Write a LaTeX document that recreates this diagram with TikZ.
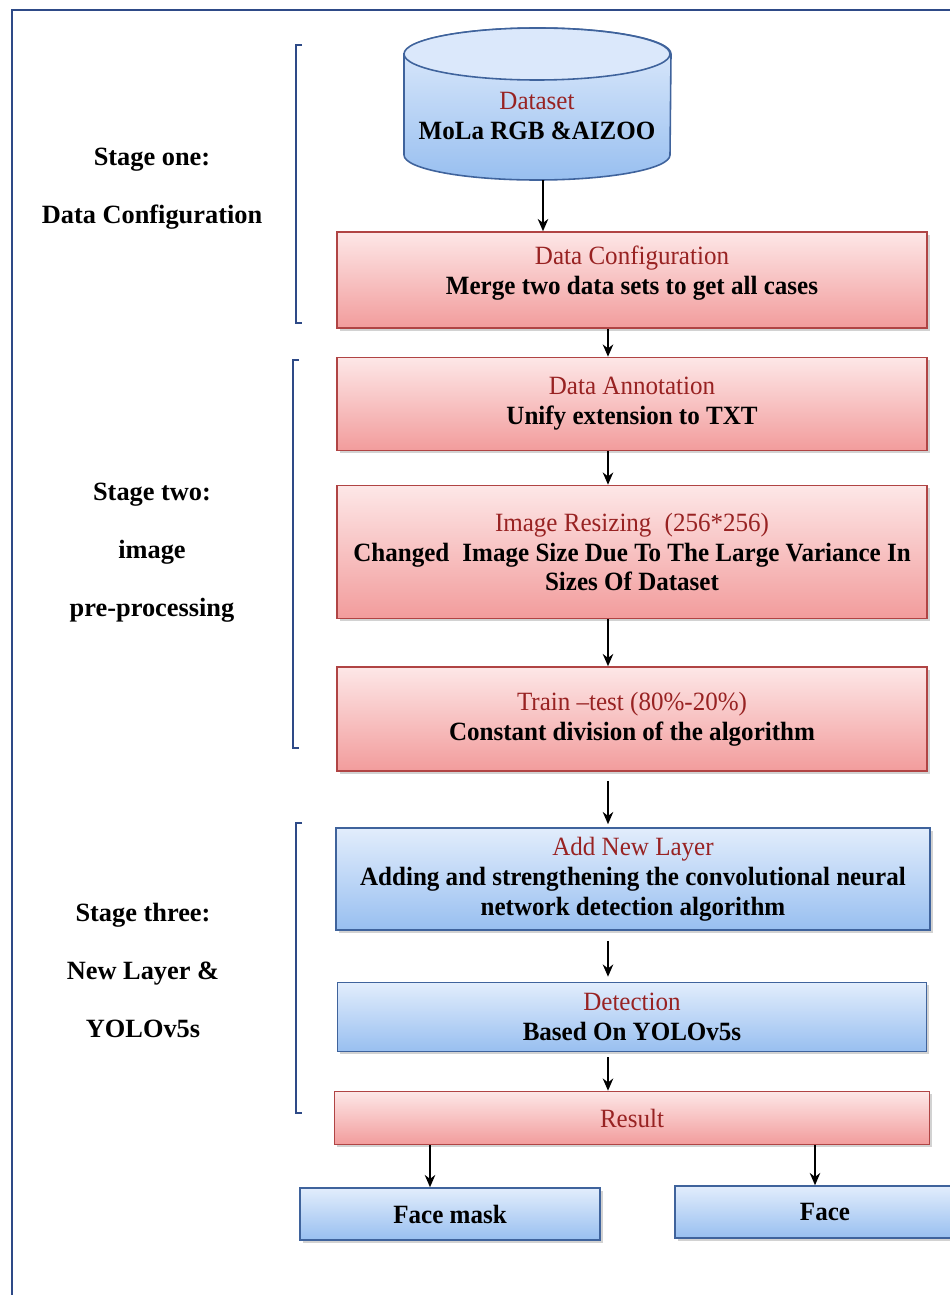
\documentclass[tikz,border=0pt]{standalone}
\usepackage{fontspec}
\setmainfont{Liberation Serif}
\newfontfamily\boxfont[FakeStretch=0.95, Ligatures=TeX]{Liberation Serif}
\usetikzlibrary{arrows.meta,shadows,positioning}

\definecolor{bluetop}{HTML}{E2EDFC}
\definecolor{bluebot}{HTML}{98BFF0}
\definecolor{blueline}{HTML}{3F639C}
\definecolor{redtop}{HTML}{FDE7E7}
\definecolor{redbot}{HTML}{F29C9C}
\definecolor{redline}{HTML}{B04444}
\definecolor{titlered}{HTML}{982222}
\definecolor{framecol}{HTML}{2E4A87}

\newcommand{\boxtitle}[1]{{\mdseries\color{titlered}#1}}

\tikzset{
  stepbase/.style={line width=0.9pt, align=center, inner sep=2pt,
    font=\boxfont\fontsize{15}{17}\selectfont\bfseries,
    drop shadow={shadow xshift=1.5pt, shadow yshift=-1.5pt, opacity=0.35}},
  redbox/.style={stepbase, draw=redline, top color=redtop, bottom color=redbot},
  bluebox/.style={stepbase, draw=blueline, top color=bluetop, bottom color=bluebot},
  stagetext/.style={align=center, font=\fontsize{15}{33}\selectfont\bfseries},
  bracket/.style={draw=framecol, line width=0.8pt},
  arr/.style={-{Stealth[length=7pt,width=6pt]}, line width=0.8pt}
}

\begin{document}
\begin{tikzpicture}[x=0.2mm,y=-0.2mm]
  \useasboundingbox (0,0) rectangle (950,1295);
  \clip (0,0) rectangle (950,1295);
  \fill[white] (0,0) rectangle (950,1295);
  % outer frame
  \draw[framecol, line width=1pt] (12,10) rectangle (990,1330);

  % dataset cylinder
  \shade[top color=bluetop, bottom color=bluebot, draw=blueline, line width=0.9pt]
    (404,54) -- (404,155) arc[start angle=180, end angle=0, x radius=133, y radius=25]
    -- (671,54) arc[start angle=0, end angle=-180, x radius=133, y radius=26] -- cycle;
  \fill[bluetop!90!bluebot, draw=blueline, line width=0.9pt] (537,54) ellipse[x radius=133, y radius=26];
  \node[minimum width=53.2mm, minimum height=30.4mm] (ds) at (537,104) {};
  \node[align=center, font=\boxfont\fontsize{15}{17}\selectfont\bfseries] (dstxt) at (537,116)
    {\boxtitle{Dataset}\\MoLa RGB \&AIZOO};

  % process boxes
  \node[redbox, minimum width=118mm, minimum height=19.2mm] (cfg) at (632,280)
    {\boxtitle{Data Configuration}\\Merge two data sets to get all cases\\[-6pt]};
  \node[redbox, minimum width=118mm, minimum height=18.6mm] (ann) at (632,404)
    {\boxtitle{Data Annotation}\\Unify extension to TXT};
  \node[redbox, minimum width=118mm, minimum height=26.6mm] (rsz) at (632,552)
    {\boxtitle{Image Resizing\enspace(256*256)}\\Changed\enspace Image Size Due To The Large Variance In\\Sizes Of Dataset};
  \node[redbox, minimum width=118mm, minimum height=20.8mm] (tt) at (632,719)
    {\boxtitle{Train --test (80\%-20\%)}\\Constant division of the algorithm};
  \node[bluebox, minimum width=118.8mm, minimum height=20.4mm] (anl) at (633,879)
    {\boxtitle{Add New Layer}\\Adding and strengthening the convolutional neural\\network detection algorithm};
  \node[bluebox, minimum width=117.8mm, minimum height=13.8mm] (det) at (632,1017)
    {\boxtitle{Detection}\\Based On YOLOv5s};
  \node[redbox, minimum width=119mm, minimum height=10.6mm] (res) at (632,1118)
    {\boxtitle{Result}};
  \node[bluebox, minimum width=60mm, minimum height=10.4mm] (fm) at (450,1214) {Face mask};
  \node[bluebox, minimum width=60mm, minimum height=10.4mm] (face) at (825,1212) {Face};

  % arrow columns
  \coordinate (colA) at (608,0);
  \coordinate (colB) at (430,0);
  \coordinate (colC) at (815,0);
  \draw[arr] (ds.south -| 543,0) -- (cfg.north -| 543,0);
  \draw[arr] (cfg.south -| colA) -- (ann.north -| colA);
  \draw[arr] (ann.south -| colA) -- (rsz.north -| colA);
  \draw[arr] (rsz.south -| colA) -- (tt.north -| colA);
  \draw[arr, shorten <=1.8mm, shorten >=0.6mm] (tt.south -| colA) -- (anl.north -| colA);
  \draw[arr, shorten <=2mm, shorten >=1mm] (anl.south -| colA) -- (det.north -| colA);
  \draw[arr, shorten <=1mm] (det.south -| colA) -- (res.north -| colA);
  \draw[arr] (res.south -| colB) -- (fm.north -| colB);
  \draw[arr] (res.south -| colC) -- (face.north -| colC);

  % stage brackets
  \draw[bracket] (302,45) -- (296,45) -- (296,323) -- (302,323);
  \draw[bracket] (299,360) -- (293,360) -- (293,748) -- (299,748);
  \draw[bracket] (302,823) -- (296,823) -- (296,1113) -- (302,1113);

  % stage labels
  \node[stagetext] (s1) at (152,189) {Stage one:\\Data Configuration};
  \node[stagetext] (s2) at (152,553) {Stage two:\\image\\pre-processing};
  \node[stagetext] (s3) at (143,970) {Stage three:\\New Layer \&\\YOLOv5s};
\end{tikzpicture}
\end{document}
